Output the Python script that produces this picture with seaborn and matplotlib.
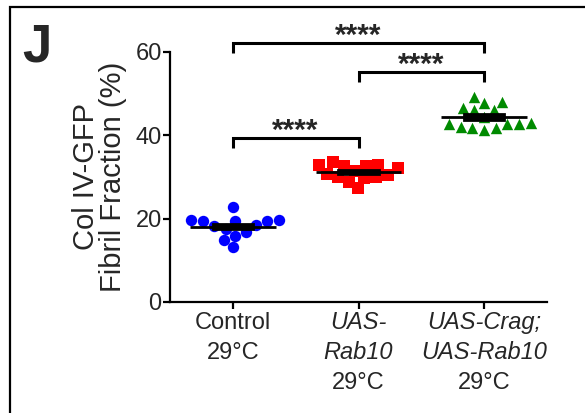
import numpy as np
import pandas as pd
import matplotlib
matplotlib.use('Agg')
import matplotlib.pyplot as plt
import seaborn as sns
from matplotlib.patches import Rectangle

# values (% fibril fraction)
groups = ['Control', 'UAS-Rab10', 'UAS-Crag;UAS-Rab10']
control = [19.8, 19.4, 22.7, 19.4, 19.4, 19.8, 15.9, 13.1, 14.9, 16.8, 18.2, 17.6, 18.4]
rab10 = [33.7, 32.6, 32.6, 30.1, 29.7, 27.3, 28.9, 30.1, 32.1, 32.9, 32.9, 30.5, 31.5, 30.8]
crag_rab10 = [47.7, 49.3, 48.1, 46.1, 46.1, 46.5, 42.6, 42.6, 41.7, 41.3, 41.7, 42.1, 42.6, 42.9, 44.5]
colors = ['#0000ff', '#ff0000', '#008a00']
markers = ['o', 's', '^']
yticks = [0, 20, 40, 60]

# tick label lines: (text, italic)
tick_lines = [
    [('Control', False), ('29°C', False)],
    [('UAS-', True), ('Rab10', True), ('29°C', False)],
    [('UAS-Crag;', True), ('UAS-Rab10', True), ('29°C', False)],
]
# comparisons: (group a, group b, bracket height, stars)
comparisons = [(0, 2, 62.2, '****'), (1, 2, 55.3, '****'), (0, 1, 39.4, '****')]

sns.set_style('ticks')
plt.rcParams['font.family'] = ['Liberation Sans', 'DejaVu Sans']

values = [control, rab10, crag_rab10]
df = pd.DataFrame({'group': np.repeat(groups, [len(v) for v in values]),
                   'value': np.concatenate(values)})

fig = plt.figure(figsize=(5.85, 4.13), dpi=100)
ax = fig.add_axes([170 / 585, 1 - 302 / 413, 377 / 585, 250 / 413])

for i, g in enumerate(groups):
    sub = df[df['group'] == g]
    sns.swarmplot(data=sub, x='group', y='value', order=groups, color=colors[i],
                  marker=markers[i], size=8.2, linewidth=0, ax=ax, zorder=2)

# mean line + SEM block
for i, v in enumerate(values):
    v = np.array(v)
    m = v.mean()
    sem = v.std(ddof=1) / np.sqrt(len(v))
    ax.hlines(m, i - 0.34, i + 0.34, color='black', lw=2, zorder=4)
    ax.bar(i, 2 * sem, bottom=m - sem, width=0.32, color='black', lw=2,
           edgecolor='black', zorder=5)

ax.set_xlim(-0.5, 2.5)
ax.set_ylim(0, 60)
ax.set_yticks(yticks)
ax.set_xlabel('')
ax.set_ylabel('Col IV-GFP\nFibril Fraction (%)', fontsize=21, linespacing=0.95, labelpad=6)
ax.set_xticks(range(len(groups)))
ax.set_xticklabels([])
ax.tick_params(axis='both', width=1.6, length=5, color='black', labelsize=17, pad=1)
for s in ['left', 'bottom']:
    ax.spines[s].set_linewidth(1.6)
    ax.spines[s].set_color('black')
sns.despine(ax=ax)

# x tick labels with mixed italic lines
for i, lines in enumerate(tick_lines):
    for j, (txt, it) in enumerate(lines):
        ax.annotate(txt, xy=(i, 0), xycoords=('data', 'axes fraction'),
                    xytext=(0, -15 - 21.5 * j), textcoords='offset points',
                    ha='center', va='center', fontsize=17,
                    fontstyle='italic' if it else 'normal')

# significance brackets
for a, b, h, stars in comparisons:
    ax.plot([a, a, b, b], [h - 2.5, h, h, h - 2.5], color='black', lw=2.2,
            clip_on=False, solid_joinstyle='miter', solid_capstyle='butt')
    ax.text((a + b) / 2, h - 1.8, stars, ha='center', va='bottom', fontsize=21.5,
            fontweight='bold')

# panel frame and letter
fig.add_artist(Rectangle((10 / 585, -0.2), 1.2, 1 - 7 / 413 + 0.2, transform=fig.transFigure,
                         fill=False, lw=1.6, edgecolor='black'))
fig.text(22 / 585, 1 - 23 / 413, 'J', ha='left', va='top', fontsize=38, fontweight='bold')

fig.savefig('out.png', dpi=100)
